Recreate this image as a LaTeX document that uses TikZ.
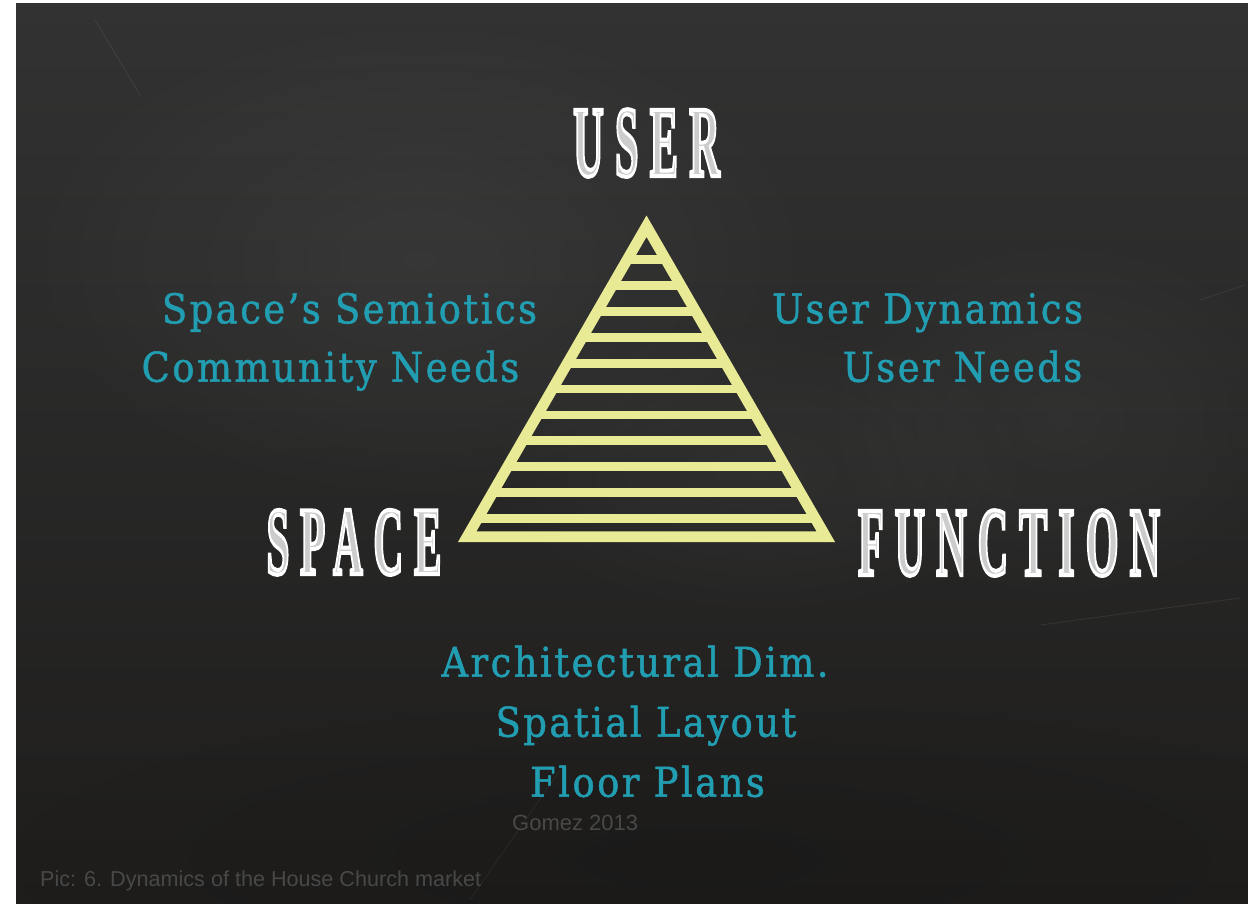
\documentclass[tikz,border=0pt]{standalone}
\usepackage{fontspec}
\usepackage{graphicx}
\usetikzlibrary{fadings}
\setmainfont{DejaVu Serif}
\newfontfamily\labelfont[FakeBold=1.2, FakeStretch=0.9, LetterSpace=6]{DejaVu Serif}
\newfontfamily\headfont[LetterSpace=26]{Liberation Serif Bold}
\newfontfamily\notefont{Liberation Sans}

\definecolor{boardtop}{RGB}{50,50,50}
\definecolor{boardbottom}{RGB}{30,29,28}
\definecolor{chalkyellow}{RGB}{233,234,150}
\definecolor{chalkteal}{RGB}{34,158,178}
\definecolor{notegray}{RGB}{72,72,72}

\tikzfading[name=softspot, inner color=transparent!0, outer color=transparent!100]

% condensed chalk capitals: grey body, white chalk outline
% #1 horizontal scale, #2 font size, #3 text
\newcommand\chalkhead[3]{%
  \scalebox{#1}[1]{\headfont\fontsize{#2}{#2}\selectfont
    \special{pdf:literal direct 2 Tr 4 w 1 1 1 RG 0.8 0.8 0.8 rg}#3%
    \special{pdf:literal direct 0 Tr}}}

\begin{document}
\begin{tikzpicture}[x=1pt,y=-1pt,
  topic/.style={text=chalkteal, font=\labelfont\fontsize{41}{45}\selectfont,
                anchor=base, inner sep=0pt},
  pole/.style={anchor=base, inner sep=0pt},
  note/.style={text=notegray, font=\notefont\fontsize{22}{24}\selectfont,
               anchor=base west, inner sep=0pt},
  frame/.style={draw=chalkyellow, line width=10.7pt, line join=miter},
  rung/.style={draw=chalkyellow, line width=8.7pt, line cap=butt}]

\useasboundingbox (0,0) rectangle (1248,904);
\fill[white] (0,0) rectangle (1248,904);

% chalkboard
\shade[top color=boardtop, bottom color=boardbottom] (16,4) rectangle (1248,904);
\begin{scope}
  \clip (16,4) rectangle (1248,904);
  \fill[white, fill opacity=0.05, path fading=softspot] (420,260) ellipse (420 and 260);
  \fill[white, fill opacity=0.04, path fading=softspot] (760,470) ellipse (300 and 160);
  \fill[white, fill opacity=0.04, path fading=softspot] (1060,420) ellipse (260 and 200);
  \fill[black, fill opacity=0.12, path fading=softspot] (700,860) ellipse (700 and 160);
  % faint scratches
  \draw[white, opacity=0.08, line width=0.8pt] (95,20) -- (140,95);
  \draw[white, opacity=0.08, line width=0.8pt] (1040,625) -- (1240,598);
  \draw[white, opacity=0.06, line width=0.8pt] (560,770) -- (470,900);
  \draw[white, opacity=0.07, line width=0.8pt] (1200,300) -- (1245,285);
\end{scope}

% ladder triangle
\draw[frame] (646.5,226.2) -- (825.8,536.7) -- (467.2,536.7) -- cycle;
\foreach \k in {0,...,10} {
  \pgfmathsetmacro{\yy}{259.8+25.85*\k}
  \pgfmathsetmacro{\hw}{(\yy-226.2)/sqrt(3)}
  \draw[rung] ({646.5-\hw},\yy) -- ({646.5+\hw},\yy);
}

% poles
\node[pole] (user) at (646.5,176) {\chalkhead{0.422}{101}{USER}};
\node[pole] (space) at (354,574) {\chalkhead{0.425}{97}{SPACE}};
\node[pole] (function) at (1009,575) {\chalkhead{0.431}{98}{FUNCTION}};

% topics
\node[topic] (semiotics) at (349.5,323.3) {Space’s Semiotics};
\node[topic] (community) at (330.5,381.7) {Community Needs};
\node[topic] (dynamics) at (927.5,323.3) {User Dynamics};
\node[topic] (userneeds) at (962.5,381.7) {User Needs};
\node[topic] (archdim) at (635,676.7) {Architectural Dim.};
\node[topic] (layout) at (646,736.7) {Spatial Layout};
\node[topic] (plans) at (647.5,796.7) {Floor Plans};

% credits
\node[note] (source) at (512,830) {Gomez 2013};
\node[note, font=\notefont\fontsize{21.6}{24}\selectfont] (caption) at (40,886.7)
  {Pic: 6. Dynamics of the House Church market};
\end{tikzpicture}
\end{document}
